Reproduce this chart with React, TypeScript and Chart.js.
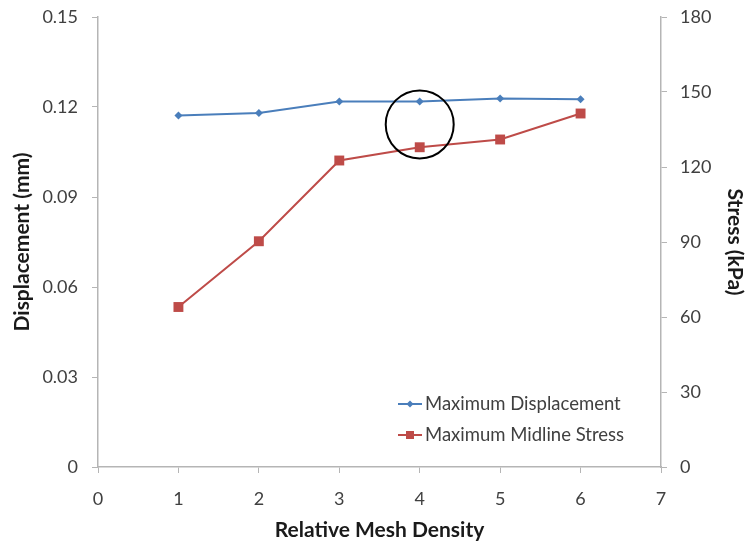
import React, { useEffect, useRef } from "react";
import { Chart, registerables } from "chart.js";

Chart.register(...registerables);

// ---- data ----
const meshDensity = [1, 2, 3, 4, 5, 6];
const maxDisplacement = [0.1172, 0.118, 0.1218, 0.1218, 0.1228, 0.1226]; // mm
const maxMidlineStress = [64.0, 90.3, 122.6, 127.9, 131.0, 141.4]; // kPa

const xTicks = [0, 1, 2, 3, 4, 5, 6, 7];
const leftTicks = [0, 0.03, 0.06, 0.09, 0.12, 0.15];
const leftTickLabels = ["0", "0.03", "0.06", "0.09", "0.12", "0.15"];
const rightTicks = [0, 30, 60, 90, 120, 150, 180];
const rightTickLabels = ["0", "30", "60", "90", "120", "150", "180"];

const seriesNames = ["Maximum Displacement", "Maximum Midline Stress"];
const seriesColors = ["#4a7ebb", "#be4b48"];

// highlighted point (circle annotation) in data coordinates
const circleCenter = { x: 4, y: 0.1142 };

const FONT = "Lato, 'Open Sans', sans-serif";
const TEXT = "#404040";
const AXIS = "#b5b5b5";

const circlePlugin = {
  id: "circleNote",
  afterDatasetsDraw(chart: any) {
    const { ctx, scales } = chart;
    const cx = scales.x.getPixelForValue(circleCenter.x);
    const cy = scales.y.getPixelForValue(circleCenter.y);
    ctx.save();
    ctx.beginPath();
    ctx.arc(cx, cy, 34, 0, Math.PI * 2);
    ctx.lineWidth = 2;
    ctx.strokeStyle = "#000";
    ctx.stroke();
    ctx.restore();
  },
};

const legendPlugin = {
  id: "innerLegend",
  afterDraw(chart: any) {
    const { ctx, chartArea } = chart;
    const x0 = chartArea.left + 300;
    const rows = [chartArea.top + 387, chartArea.top + 418];
    ctx.save();
    seriesNames.forEach((name, i) => {
      const y = rows[i];
      const c = seriesColors[i];
      ctx.strokeStyle = c;
      ctx.lineWidth = 2;
      ctx.beginPath();
      ctx.moveTo(x0, y);
      ctx.lineTo(x0 + 24, y);
      ctx.stroke();
      ctx.fillStyle = c;
      const mx = x0 + 12;
      if (i === 0) {
        ctx.beginPath();
        ctx.moveTo(mx, y - 3.5);
        ctx.lineTo(mx + 3.5, y);
        ctx.lineTo(mx, y + 3.5);
        ctx.lineTo(mx - 3.5, y);
        ctx.closePath();
        ctx.fill();
      } else {
        ctx.fillRect(mx - 4, y - 4, 8, 8);
      }
      ctx.fillStyle = TEXT;
      ctx.font = `18.5px ${FONT}`;
      ctx.textBaseline = "middle";
      ctx.textAlign = "left";
      ctx.fillText(name, x0 + 27, y);
    });
    ctx.restore();
  },
};

const zeroPad = (s: any) => {
  s.paddingTop = 0;
  s.paddingBottom = 0;
  s.paddingLeft = 0;
  s.paddingRight = 0;
};

export default function App() {
  const ref = useRef<HTMLCanvasElement>(null);

  useEffect(() => {
    if (!ref.current) return;
    const chart = new Chart(ref.current, {
      type: "line",
      data: {
        datasets: [
          {
            label: seriesNames[0],
            data: meshDensity.map((x, i) => ({ x, y: maxDisplacement[i] })),
            yAxisID: "y",
            borderColor: seriesColors[0],
            backgroundColor: seriesColors[0],
            borderWidth: 2,
            pointStyle: "rectRot",
            pointRadius: 4,
            pointBorderWidth: 0,
            tension: 0,
          },
          {
            label: seriesNames[1],
            data: meshDensity.map((x, i) => ({ x, y: maxMidlineStress[i] })),
            yAxisID: "y1",
            borderColor: seriesColors[1],
            backgroundColor: seriesColors[1],
            borderWidth: 2,
            pointStyle: "rect",
            pointRadius: 7,
            pointBorderWidth: 0,
            tension: 0,
          },
        ],
      },
      options: {
        responsive: false,
        animation: false,
        devicePixelRatio: 1,
        layout: { padding: { top: 17, left: 0, right: 0, bottom: 0 } },
        plugins: {
          legend: { display: false },
          tooltip: { enabled: false },
        },
        scales: {
          x: {
            type: "linear",
            min: 0,
            max: 7,
            afterBuildTicks: (s: any) => {
              s.ticks = xTicks.map((v) => ({ value: v }));
            },
            afterFit: (s: any) => {
              s.height = 78;
              zeroPad(s);
            },
            grid: {
              display: true,
              drawOnChartArea: false,
              drawTicks: true,
              tickLength: 6,
              color: AXIS,
            },
            border: { display: true, color: AXIS, width: 1.5 },
            ticks: {
              padding: 15,
              color: TEXT,
              font: { family: FONT, size: 18 },
              callback: (v: any) => String(v),
            },
            title: {
              display: true,
              text: "Relative Mesh Density",
              color: "#1a1a1a",
              font: { family: FONT, size: 21, weight: "bold" },
              padding: { top: 0, bottom: 2 },
            },
          },
          y: {
            type: "linear",
            position: "left",
            min: 0,
            max: 0.15,
            afterBuildTicks: (s: any) => {
              s.ticks = leftTicks.map((v) => ({ value: v }));
            },
            afterFit: (s: any) => {
              s.width = 98;
              zeroPad(s);
            },
            grid: {
              display: true,
              drawOnChartArea: false,
              drawTicks: true,
              tickLength: 6,
              color: AXIS,
            },
            border: { display: true, color: AXIS, width: 1.5 },
            ticks: {
              padding: 14,
              color: TEXT,
              font: { family: FONT, size: 18 },
              callback: (_v: any, i: number) => leftTickLabels[i],
            },
            title: {
              display: true,
              text: "Displacement (mm)",
              color: "#1a1a1a",
              font: { family: FONT, size: 21, weight: "bold" },
              padding: { top: 10, bottom: 0 },
            },
          },
          y1: {
            type: "linear",
            position: "right",
            min: 0,
            max: 180,
            afterBuildTicks: (s: any) => {
              s.ticks = rightTicks.map((v) => ({ value: v }));
            },
            afterFit: (s: any) => {
              s.width = 86;
              zeroPad(s);
            },
            grid: {
              display: true,
              drawOnChartArea: false,
              drawTicks: true,
              tickLength: 6,
              color: AXIS,
            },
            border: { display: true, color: AXIS, width: 1.5 },
            ticks: {
              padding: 13,
              color: TEXT,
              font: { family: FONT, size: 18 },
              callback: (_v: any, i: number) => rightTickLabels[i],
            },
            title: {
              display: true,
              text: "Stress (kPa)",
              color: "#1a1a1a",
              font: { family: FONT, size: 21, weight: "bold" },
              padding: { top: 0, bottom: 0 },
            },
          },
        },
      } as any,
      plugins: [circlePlugin, legendPlugin],
    });
    return () => chart.destroy();
  }, []);

  return (
    <div style={{ position: "absolute", left: 0, top: 0, width: 747, height: 545, background: "#fff" }}>
      <canvas ref={ref} width={747} height={545} style={{ display: "block" }} />
    </div>
  );
}
